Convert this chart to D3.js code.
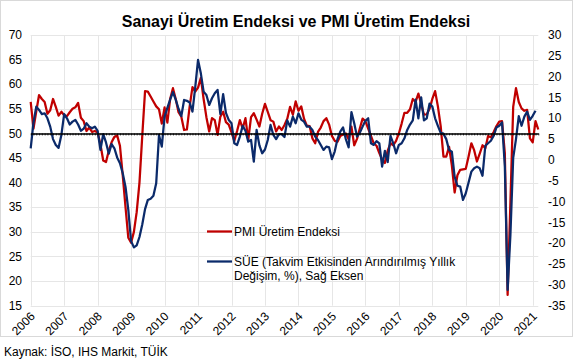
<!DOCTYPE html>
<html>
<head>
<meta charset="utf-8">
<script src="https://cdn.jsdelivr.net/npm/d3@7"></script>
<style>
  body { margin: 0; background: #fff; }
  svg { display: block; font-family: Arial, "Liberation Sans", sans-serif; }
</style>
</head>
<body>
<script>
// Page size, same as the reference picture.
var svg_width = 574;
var svg_height = 362;

// Tick labels for both axes and the year labels on the bottom.
var year_labels = ["2006", "2007", "2008", "2009", "2010", "2011", "2012", "2013",
    "2014", "2015", "2016", "2017", "2018", "2019", "2020", "2021"];
var left_ticks = [15, 20, 25, 30, 35, 40, 45, 50, 55, 60, 65, 70];
var right_ticks = [-35, -30, -25, -20, -15, -10, -5, 0, 5, 10, 15, 20, 25, 30];

// PMI output index (left axis), monthly, Jan 2006 - Mar 2021.
var pmi = [
    56.4, 51.0, 54.5, 57.8, 57.0, 56.4, 54.0, 54.7, 57.0, 55.4, 53.6, 54.4,
    53.7, 53.5, 54.3, 55.0, 55.3, 56.2, 53.2, 52.5, 50.5, 51.2, 50.3, 50.5,
    50.2, 47.8, 44.5, 44.2, 46.5, 48.2, 49.3, 49.6, 47.5, 41.5, 35.0, 28.8,
    27.8, 30.0, 34.0, 40.0, 49.5, 58.6, 58.5, 57.5, 56.5, 55.5, 54.9, 52.0,
    55.3, 52.2, 57.0, 59.2, 57.0, 54.3, 53.4, 50.7, 50.8, 55.5, 59.4, 58.5,
    59.3, 61.3, 57.0, 53.3, 50.4, 53.1, 52.7, 49.7, 53.4, 54.4, 52.3, 51.8,
    50.2, 48.5, 50.5, 52.7, 51.0, 53.1, 48.7, 53.3, 54.1, 52.8, 51.4, 54.0,
    56.0, 54.4, 52.7, 52.4, 50.4, 51.4, 50.7, 51.7, 53.0, 55.4, 53.8, 56.5,
    54.6, 55.5, 53.0, 51.6, 51.5, 49.0, 48.0, 50.3, 51.2, 52.5, 53.1, 51.8,
    49.5, 48.5, 48.3, 49.5, 49.8, 50.0, 48.8, 51.4, 47.6, 48.9, 51.0, 53.0,
    52.5, 51.0, 49.5, 48.0, 47.5, 46.0, 44.7, 44.0, 46.5, 48.0, 47.6, 48.5,
    50.0, 52.0, 54.2, 54.2, 54.9, 57.0, 56.4, 58.1, 56.0, 53.8, 53.9, 55.0,
    57.0, 58.6, 55.5, 51.5, 45.3, 45.3, 47.3, 43.5, 38.0, 41.5, 42.6, 42.7,
    42.8, 45.3, 48.0, 46.6, 44.3, 45.9, 47.6, 47.0, 49.5, 49.2, 50.3, 51.5,
    52.4, 52.5, 46.0, 17.2, 36.0, 55.4, 59.2, 56.4, 55.1, 54.6, 54.8, 49.0,
    48.2, 52.5, 50.8
];

// Industrial production, calendar adjusted yearly change % (right axis), Jan 2006 - Feb 2021.
var sue = [
    2.8, 9.0, 12.8, 12.0, 11.0, 11.2, 10.0, 8.0, 5.0, 3.6, 2.9, 6.0,
    11.0, 10.0, 8.5, 9.2, 9.6, 8.5, 7.0, 7.5, 8.8, 8.0, 7.6, 8.0,
    7.0, 2.4, 6.2, 4.2, 1.5, 3.8, 2.8, 0.6, -0.8, -3.2, -6.5, -12.0,
    -19.5, -21.0, -20.5, -18.5, -15.5, -11.8, -9.6, -9.3, -8.6, -5.6, 6.0, 3.2,
    10.4, 12.5, 14.5, 16.3, 14.5, 12.3, 10.5, 14.4, 14.2, 13.8, 11.6, 17.5,
    24.0, 20.8, 16.4, 15.6, 13.2, 14.8, 16.0, 16.8, 11.0, 15.8, 11.3, 9.6,
    8.8, 4.0, 3.6, 5.6, 8.2, 7.0, 4.4, 4.8, -0.4, 7.2, 3.5, 1.6,
    2.5, 4.8, 8.4, 6.0, 5.0, 6.2, 6.2, 5.5, 9.5, 8.0, 10.4, 8.8,
    11.2, 9.7, 9.2, 8.0, 8.0, 7.2, 5.6, 4.8, 3.6, 2.4, 3.2, 3.0,
    0.2, 2.0, 5.0, 6.8, 7.8, 5.0, 3.0, 11.5, 8.8, 5.6, 6.5, 8.0,
    9.4, 10.0, 4.0, 3.6, 4.5, 4.0, -1.6, 2.2, -0.5, 5.8, 4.0, 1.6,
    3.6, 4.0, 5.2, 7.2, 8.5, 9.5, 14.5, 10.0, 15.0, 9.5, 10.0, 13.5,
    12.8, 10.0, 8.2, 6.5, 6.3, 5.0, 2.4, 2.0, -4.0, -6.2, -6.4, -9.6,
    -8.0, -5.4, -2.8, -2.0, -1.6, -2.0, -3.8, 3.4, 4.0, 4.6, 5.8, 7.8,
    8.2, 9.0, -1.5, -31.2, -18.0, 0.5, 5.0, 10.5, 8.2, 10.4, 11.6, 9.6,
    10.6, 11.8
];

// Where the plot sits inside the picture.
var plot = { left: 30.7, right: 538.3, top: 35, bottom: 305.7 };

var svg = d3.select("body")
    .append("svg")
    .attr("width", svg_width)
    .attr("height", svg_height);

svg.append("rect")
    .attr("width", svg_width)
    .attr("height", svg_height)
    .attr("fill", "#fff");

// Thin grey frame around the chart (the source line sits below it).
svg.append("rect")
    .attr("x", 0.5)
    .attr("y", 0.5)
    .attr("width", 572)
    .attr("height", 336)
    .attr("fill", "none")
    .attr("stroke", "#d9d9d9");

// Month index on x, one scale per y axis.
var x = d3.scaleLinear()
    .domain([0, 182])
    .range([plot.left, plot.right]);
var y_left = d3.scaleLinear()
    .domain([15, 70])
    .range([plot.bottom, plot.top]);
var y_right = d3.scaleLinear()
    .domain([-35, 30])
    .range([plot.bottom, plot.top]);

// Grid lines follow the left axis and the years.
var grid = svg.append("g").attr("stroke", "#e6e6e6").attr("stroke-width", 1);
grid.selectAll("line.h")
    .data(left_ticks)
    .enter()
    .append("line")
    .attr("x1", plot.left)
    .attr("x2", plot.right)
    .attr("y1", function (d) { return Math.round(y_left(d)) + 0.5; })
    .attr("y2", function (d) { return Math.round(y_left(d)) + 0.5; });
grid.selectAll("line.v")
    .data(year_labels)
    .enter()
    .append("line")
    .attr("x1", function (d, i) { return Math.round(x(i * 12)) + 0.5; })
    .attr("x2", function (d, i) { return Math.round(x(i * 12)) + 0.5; })
    .attr("y1", plot.top)
    .attr("y2", plot.bottom);

// Left axis labels.
svg.append("g")
    .selectAll("text")
    .data(left_ticks)
    .enter()
    .append("text")
    .attr("x", 22)
    .attr("y", function (d) { return y_left(d); })
    .attr("dy", "0.35em")
    .attr("text-anchor", "end")
    .attr("font-size", "12px")
    .attr("fill", "#000")
    .text(function (d) { return d; });

// Right axis labels.
svg.append("g")
    .selectAll("text")
    .data(right_ticks)
    .enter()
    .append("text")
    .attr("x", 548)
    .attr("y", function (d) { return y_right(d); })
    .attr("dy", "0.35em")
    .attr("text-anchor", "start")
    .attr("font-size", "12px")
    .attr("fill", "#000")
    .text(function (d) { return d; });

// Year labels, turned 45 degrees.
svg.append("g")
    .selectAll("text")
    .data(year_labels)
    .enter()
    .append("text")
    .attr("transform", function (d, i) {
        return "translate(" + (x(i * 12) + 5) + ",317) rotate(-45)";
    })
    .attr("text-anchor", "end")
    .attr("font-size", "12px")
    .attr("fill", "#000")
    .text(function (d) { return d; });

// The two series.
var pmi_line = d3.line()
    .x(function (d, i) { return x(i); })
    .y(function (d) { return y_left(d); });
var sue_line = d3.line()
    .x(function (d, i) { return x(i); })
    .y(function (d) { return y_right(d); });

svg.append("path")
    .datum(pmi)
    .attr("d", pmi_line)
    .attr("fill", "none")
    .attr("stroke", "#c00000")
    .attr("stroke-width", 2.25)
    .attr("stroke-linejoin", "round");
svg.append("path")
    .datum(sue)
    .attr("d", sue_line)
    .attr("fill", "none")
    .attr("stroke", "#0b2a6a")
    .attr("stroke-width", 2.25)
    .attr("stroke-linejoin", "round");

// Black 50 line with a small tick every month.
var mid = svg.append("g")
    .attr("transform", "translate(0," + y_left(50) + ")")
    .call(d3.axisBottom(x)
        .tickValues(d3.range(0, 183))
        .tickSize(2)
        .tickSizeOuter(0)
        .tickFormat(""));
mid.select(".domain").attr("stroke", "#000").attr("stroke-width", 1.5);
mid.selectAll(".tick line").attr("stroke", "#000").attr("stroke-width", 0.8);

// Title.
svg.append("text")
    .attr("x", 296)
    .attr("y", 27)
    .attr("text-anchor", "middle")
    .attr("font-size", "16px")
    .attr("font-weight", "bold")
    .attr("fill", "#000")
    .text("Sanayi Üretim Endeksi ve PMI Üretim Endeksi");

// Legend inside the plot.
var legend = svg.append("g").attr("font-size", "12px").attr("fill", "#000");
legend.append("line")
    .attr("x1", 207).attr("x2", 232).attr("y1", 231.5).attr("y2", 231.5)
    .attr("stroke", "#c00000").attr("stroke-width", 2.25);
legend.append("text")
    .attr("x", 234).attr("y", 236)
    .text("PMI Üretim Endeksi");
legend.append("line")
    .attr("x1", 207).attr("x2", 232).attr("y1", 261.5).attr("y2", 261.5)
    .attr("stroke", "#0b2a6a").attr("stroke-width", 2.25);
legend.append("text")
    .attr("x", 234).attr("y", 266)
    .text("SÜE (Takvim Etkisinden Arındırılmış Yıllık");
legend.append("text")
    .attr("x", 234).attr("y", 280)
    .text("Değişim, %), Sağ Eksen");

// Source line under the frame.
svg.append("text")
    .attr("x", 4)
    .attr("y", 356)
    .attr("font-size", "12px")
    .attr("fill", "#000")
    .text("Kaynak: İSO, IHS Markit, TÜİK");
</script>
</body>
</html>
